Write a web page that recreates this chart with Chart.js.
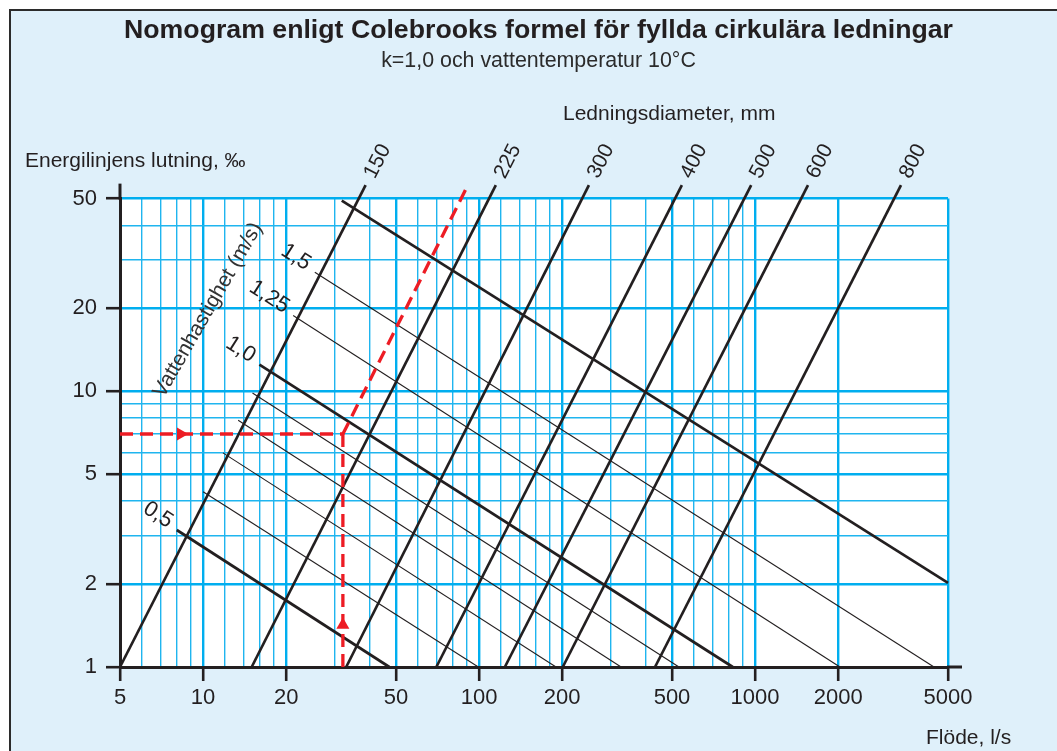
<!DOCTYPE html>
<html><head><meta charset="utf-8">
<script src="https://cdn.jsdelivr.net/npm/chart.js@4/dist/chart.umd.min.js"></script>
<style>html,body{margin:0;padding:0;background:#fff;}canvas{display:block;}</style>
</head><body>
<canvas id="c" width="1057" height="751"></canvas>
<script>
// ---------- data ----------
const flowTickLabels = [5, 10, 20, 50, 100, 200, 500, 1000, 2000, 5000];
const flowGridValues = [5,6,7,8,9,10,12,14,16,18,20,30,40,50,60,70,80,90,100,120,140,160,180,200,300,400,500,600,700,800,900,1000,2000,5000];
const slopeTickLabels = [1, 2, 5, 10, 20, 50];
const slopeGridValues = [1,2,3,4,5,6,7,8,9,10,20,30,40,50];

const diameters = [150, 225, 300, 400, 500, 600, 800];          // mm
const diamFlowAtSlopeLow = [5, 15, 33, 70, 124, 201, 434];      // l/s at 1 ‰
const diamFlowAtSlopeHigh = [38.8, 115, 250, 543, 968, 1555, 3378]; // l/s at 56 ‰
const diamSlopeRange = [1, 56];

const velocities = [0.5, 0.6, 0.7, 0.8, 0.9, 1.0, 1.25, 1.5, 2.0]; // m/s
const velocityLabels = ['0,5', '', '', '', '', '1,0', '1,25', '1,5', ''];
const velStartFlow = [8.03, 10.0, 11.8, 13.4, 15.1, 16.0, 21.2, 25.4, 31.8];
const velStartSlope = [3.14, 4.32, 5.98, 7.85, 9.86, 12.5, 18.85, 27.05, 49.2];
const velEndFlow = [47.3, 99.4, 190, 327, 530, 830, 2030, 4449, 5000];
const velEndSlope = [1, 1, 1, 1, 1, 1, 1, 1, 2.02];
const boldVelocities = [0.5, 1.0, 2.0];

const exampleSlope = 7.0;          // ‰
const exampleFlow = 32.1;          // l/s
const exampleDiagTop = [89.3, 53.8];
const arrowRightFlow = 8.3;
const arrowUpSlope = 1.42;

const titleText = 'Nomogram enligt Colebrooks formel för fyllda cirkulära ledningar';
const subtitleText = 'k=1,0 och vattentemperatur 10°C';
const yTitle = 'Energilinjens lutning, ‰';
const xTitle = 'Flöde, l/s';
const diamTitle = 'Ledningsdiameter, mm';
const velTitle = 'Vattenhastighet (m/s)';

// ---------- styling ----------
const INK = '#231f20';
const GRID = '#00aeef';
const RED = '#ed1c24';
const FONT = '"Liberation Sans", Arial, Helvetica, sans-serif';
Chart.defaults.font.family = FONT;
Chart.defaults.color = INK;

const datasets = [];
datasets.push({ label: 'ex-h', data: [{x: 5, y: exampleSlope}, {x: exampleFlow, y: exampleSlope}],
  borderColor: RED, borderWidth: 3.3, borderDash: [13, 7], pointRadius: 0, clip: false, order: 0 });
datasets.push({ label: 'ex-v', data: [{x: exampleFlow, y: exampleSlope}, {x: exampleFlow, y: 1}],
  borderColor: RED, borderWidth: 3.3, borderDash: [13, 7], pointRadius: 0, clip: false, order: 0 });
datasets.push({ label: 'ex-d', data: [{x: exampleFlow, y: exampleSlope}, {x: exampleDiagTop[0], y: exampleDiagTop[1]}],
  borderColor: RED, borderWidth: 3.3, borderDash: [13, 7], pointRadius: 0, clip: false, order: 0 });
datasets.push({ label: 'pil-h', data: [{x: arrowRightFlow, y: exampleSlope}], showLine: false,
  pointStyle: 'triangle', pointRotation: 90, pointRadius: 7.5, pointBackgroundColor: RED, pointBorderWidth: 0, borderWidth: 0, clip: false, order: 0 });
datasets.push({ label: 'pil-v', data: [{x: exampleFlow, y: arrowUpSlope}], showLine: false,
  pointStyle: 'triangle', pointRotation: 0, pointRadius: 7.5, pointBackgroundColor: RED, pointBorderWidth: 0, borderWidth: 0, clip: false, order: 0 });

diameters.forEach((d, i) => datasets.push({
  label: 'D ' + d + ' mm',
  data: [{x: diamFlowAtSlopeLow[i], y: diamSlopeRange[0]}, {x: diamFlowAtSlopeHigh[i], y: diamSlopeRange[1]}],
  borderColor: INK, borderWidth: 2.7, pointRadius: 0, clip: false, order: 1
}));
velocities.forEach((v, i) => datasets.push({
  label: 'v ' + v + ' m/s',
  data: [{x: velStartFlow[i], y: velStartSlope[i]}, {x: velEndFlow[i], y: velEndSlope[i]}],
  borderColor: INK, borderWidth: boldVelocities.includes(v) ? 2.7 : 1.1, pointRadius: 0, clip: false, order: 1
}));

const frame = {
  id: 'frame',
  beforeDraw(chart) {
    const {ctx, chartArea: a, width, height} = chart;
    ctx.save();
    ctx.fillStyle = '#ffffff'; ctx.fillRect(0, 0, width, height);
    ctx.fillStyle = '#dff0fa'; ctx.fillRect(10, 10, width - 10, height - 10);
    ctx.strokeStyle = '#2b2b2b'; ctx.lineWidth = 2;
    ctx.beginPath(); ctx.moveTo(10, height); ctx.lineTo(10, 10); ctx.lineTo(width, 10); ctx.stroke();
    ctx.fillStyle = '#ffffff'; ctx.fillRect(a.left, a.top, a.right - a.left, a.bottom - a.top);
    ctx.restore();
  }
};

function rotText(ctx, text, cx, cy, ang) {
  ctx.save(); ctx.translate(cx, cy); ctx.rotate(ang);
  ctx.textAlign = 'center'; ctx.textBaseline = 'middle';
  ctx.fillText(text, 0, 0); ctx.restore();
}

const annot = {
  id: 'annot',
  afterDatasetsDraw(chart) {
    const {ctx, chartArea: a, scales: {x, y}} = chart;
    ctx.save();
    // axis extensions
    ctx.strokeStyle = INK; ctx.lineWidth = 3;
    ctx.beginPath(); ctx.moveTo(a.left, a.top + 1); ctx.lineTo(a.left, a.top - 15); ctx.stroke();
    ctx.beginPath(); ctx.moveTo(a.right - 1, a.bottom); ctx.lineTo(a.right + 14, a.bottom); ctx.stroke();

    ctx.fillStyle = INK;
    ctx.font = '21px ' + FONT;
    // diameter labels
    diameters.forEach((d, i) => {
      const x0 = x.getPixelForValue(diamFlowAtSlopeLow[i]), y0 = y.getPixelForValue(diamSlopeRange[0]);
      const x1 = x.getPixelForValue(diamFlowAtSlopeHigh[i]), y1 = y.getPixelForValue(diamSlopeRange[1]);
      const L = Math.hypot(x1 - x0, y1 - y0), ux = (x1 - x0) / L, uy = (y1 - y0) / L;
      const t = String(d), w = ctx.measureText(t).width, off = 9 + w / 2;
      rotText(ctx, t, x1 + ux * off, y1 + uy * off, Math.atan2(uy, ux));
    });
    // velocity labels
    ctx.font = '22px ' + FONT;
    velocities.forEach((v, i) => {
      const t = velocityLabels[i];
      if (!t) return;
      const x0 = x.getPixelForValue(velStartFlow[i]), y0 = y.getPixelForValue(velStartSlope[i]);
      const x1 = x.getPixelForValue(velEndFlow[i]), y1 = y.getPixelForValue(velEndSlope[i]);
      const L = Math.hypot(x1 - x0, y1 - y0), ux = (x1 - x0) / L, uy = (y1 - y0) / L;
      const w = ctx.measureText(t).width, off = 7 + w / 2;
      rotText(ctx, t, x0 - ux * off, y0 - uy * off - 3, Math.atan2(uy, ux));
    });
    // axis titles
    ctx.font = '21px ' + FONT;
    ctx.textAlign = 'left'; ctx.textBaseline = 'alphabetic';
    ctx.fillText(yTitle, 25, 167);
    ctx.fillText(diamTitle, 563, 120);
    ctx.fillText(xTitle, 926, 744);
    ctx.fillStyle = '#333333';
    rotText(ctx, velTitle, 208, 310, -60 * Math.PI / 180);
    ctx.restore();
  }
};

const isIn = (arr, v) => arr.some(a => Math.abs(a - v) < 1e-9);

new Chart(document.getElementById('c'), {
  type: 'line',
  data: { datasets },
  plugins: [frame, annot],
  options: {
    responsive: false, animation: false, devicePixelRatio: 1,
    layout: { padding: { left: 20, right: 0, top: 0, bottom: 0 } },
    plugins: {
      legend: { display: false }, tooltip: { enabled: false },
      title: { display: true, text: titleText, color: INK, font: { size: 26.7, weight: 'bold' }, padding: { top: 15, bottom: 0 } },
      subtitle: { display: true, text: subtitleText, color: '#2b2b2b', font: { size: 21.4, weight: 'normal' }, padding: { top: 1.5, bottom: 124.4 } }
    },
    scales: {
      x: {
        type: 'logarithmic', position: 'bottom', min: 5, max: 5000,
        afterBuildTicks: s => { s.ticks = flowGridValues.map(v => ({ value: v })); },
        afterFit: s => { s.height = 84; },
        ticks: { autoSkip: false, maxRotation: 0, minRotation: 0, padding: 3.5, color: INK, font: { size: 22 },
          callback: v => isIn(flowTickLabels, v) ? String(v) : '' },
        grid: {
          color: c => (c.tick && isIn(flowTickLabels, c.tick.value)) ? GRID : '#1fb5ef',
          lineWidth: c => (c.tick && isIn(flowTickLabels, c.tick.value)) ? 2.4 : 1.4,
          tickColor: c => (c.tick && isIn(flowTickLabels, c.tick.value)) ? INK : 'rgba(0,0,0,0)',
          tickWidth: 2.6, tickLength: 14
        },
        border: { display: true, color: INK, width: 3 }
      },
      y: {
        type: 'logarithmic', position: 'left', min: 1, max: 50,
        afterBuildTicks: s => { s.ticks = slopeGridValues.map(v => ({ value: v })); },
        afterFit: s => { s.width = 100; },
        ticks: { autoSkip: false, padding: 9, color: INK, font: { size: 22 },
          callback: v => isIn(slopeTickLabels, v) ? String(v) : '' },
        grid: {
          color: c => (c.tick && isIn(slopeTickLabels, c.tick.value)) ? GRID : '#1fb5ef',
          lineWidth: c => (c.tick && isIn(slopeTickLabels, c.tick.value)) ? 2.4 : 1.4,
          tickColor: c => (c.tick && isIn(slopeTickLabels, c.tick.value)) ? INK : 'rgba(0,0,0,0)',
          tickWidth: 2.6, tickLength: 14
        },
        border: { display: true, color: INK, width: 3 }
      },
      yR: {
        type: 'linear', position: 'right', display: true,
        grid: { display: false, drawTicks: false }, ticks: { display: false }, border: { display: false },
        afterFit: s => { s.width = 109; }
      }
    }
  }
});
</script>
</body></html>
